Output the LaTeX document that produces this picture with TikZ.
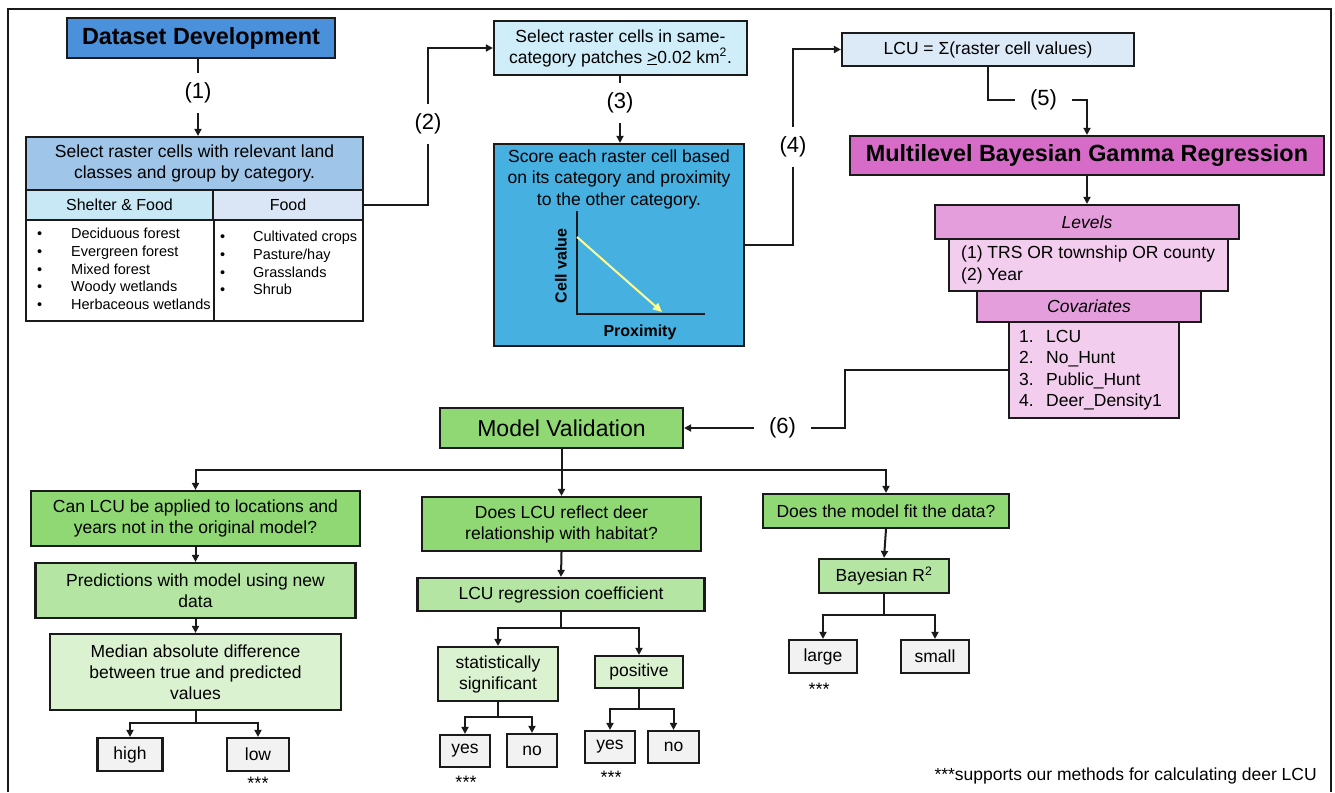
\documentclass[tikz,border=0pt]{standalone}
\usepackage{fontspec}
\setmainfont{Liberation Sans}
\usetikzlibrary{arrows.meta}
\newcommand\myfs[2]{\fontsize{#1}{#2}\selectfont}
\definecolor{dsblue}{HTML}{4A90DA}
\definecolor{selblue}{HTML}{9FC5E8}
\definecolor{shcyan}{HTML}{C8E8F6}
\definecolor{foodblue}{HTML}{DAE6F5}
\definecolor{samecyan}{HTML}{CFEEFA}
\definecolor{scoreblue}{HTML}{46B0E1}
\definecolor{lcublue}{HTML}{DCE9F6}
\definecolor{mag}{HTML}{D66BC8}
\definecolor{maghd}{HTML}{E49EDB}
\definecolor{magl}{HTML}{F2CDEE}
\definecolor{gdark}{HTML}{8FD874}
\definecolor{gmid}{HTML}{B4E5A2}
\definecolor{glight}{HTML}{DAF2D0}
\definecolor{boxgray}{HTML}{F2F2F2}
\definecolor{yel}{HTML}{FFFF8F}
\definecolor{edge}{HTML}{1A1A1A}
\begin{document}
\begin{tikzpicture}[x=1pt,y=-1pt,
  box/.style={draw=edge, line width=2.2pt, inner sep=0pt, align=center, font=\myfs{17.5}{21}},
  lab/.style={font=\myfs{22}{26}, inner sep=0pt, minimum width=57pt, minimum height=40pt},
  lst/.style={font=\myfs{14.5}{17}, inner sep=0pt, text height=10.5pt, text depth=3pt, anchor=west},
  ltxt/.style={font=\myfs{17.5}{21}, inner sep=0pt, text height=12.6pt, text depth=3.7pt, anchor=west},
  ast/.style={font=\myfs{18}{20}, inner sep=0pt, anchor=north},
  conn/.style={draw=edge, line width=2pt},
  arr/.style={conn, -{Triangle[length=7pt,width=7pt]}},
]
\useasboundingbox (0,0) rectangle (1335,792);
\fill[white] (0,0) rectangle (1335,792);
% frame
\draw[draw=edge, line width=2pt] (8,792) -- (8,9) -- (1331,9) -- (1331,792);

% ---------------- Dataset development ----------------
\node[box, fill=dsblue, minimum width=268pt, minimum height=40pt, font=\bfseries\myfs{23.4}{28}] (ds) at (201,38) {Dataset Development};
\node[box, fill=selblue, minimum width=337pt, minimum height=53pt] (sel) at (194.5,163.5) {Select raster cells with relevant land\\classes and group by category.};
\node[box, fill=shcyan, minimum width=187pt, minimum height=30pt, font=\myfs{16}{19}] (shf) at (119.5,205) {Shelter \& Food};
\node[box, fill=foodblue, minimum width=150pt, minimum height=30pt, font=\myfs{16}{19}] (food) at (288,205) {Food};
\node[box, fill=white, minimum width=188pt, minimum height=101pt] (shfl) at (120,270.5) {};
\node[box, fill=white, minimum width=149pt, minimum height=101pt] (foodl) at (288.5,270.5) {};
\foreach \t [count=\i] in {Deciduous forest, Evergreen forest, Mixed forest, Woody wetlands, Herbaceous wetlands} {
  \node[lst] (sfb\i) at (37,{235+17.7*(\i-1)}) {\textbullet};
  \node[lst] (sft\i) at (71,{235+17.7*(\i-1)}) {\t};
}
\foreach \t [count=\i] in {Cultivated crops, Pasture/hay, Grasslands, Shrub} {
  \node[lst] (fb\i) at (220,{238+17.7*(\i-1)}) {\textbullet};
  \node[lst] (ft\i) at (253,{238+17.7*(\i-1)}) {\t};
}

\node[box, fill=samecyan, minimum width=253pt, minimum height=54pt] (same) at (620.5,48) {Select raster cells in same-\\category patches \underline{>}0.02 km\textsuperscript{2}.};
\node[box, fill=scoreblue, minimum width=250pt, minimum height=202pt] (score) at (619,245) {};
\node[inner sep=0pt, align=center, font=\myfs{17.5}{21.5}] (scoretxt) at (619,179) {Score each raster cell based\\on its category and proximity\\to the other category.};
\coordinate (ytop) at (577,211);
\coordinate (orig) at (577,314);
\coordinate (xend) at (705,314);
\draw[draw=edge, line width=2.2pt] (ytop) -- (orig) -- (xend);
\coordinate (ys) at (577,237);
\coordinate (ye) at (662,312);
\draw[yel, line width=2pt, -{Triangle[length=9pt,width=8pt]}] (ys) -- (ye);
\node[rotate=90, inner sep=0pt, font=\bfseries\myfs{16}{19}] (cv) at (561,266) {Cell value};
\node[inner sep=0pt, font=\bfseries\myfs{16}{19}] (prox) at (640,332) {Proximity};

\node[box, fill=lcublue, minimum width=292pt, minimum height=33pt] (lcu) at (988,49.5) {LCU = Σ(raster cell values)};
\node[box, fill=mag, minimum width=474pt, minimum height=39pt, font=\bfseries\myfs{23.4}{28}] (mbgr) at (1087,155.5) {Multilevel Bayesian Gamma Regression};
\node[box, fill=maghd, minimum width=304pt, minimum height=34pt, font=\itshape\myfs{17.5}{21}] (levh) at (1087,222) {Levels};
\node[box, fill=magl, minimum width=279pt, minimum height=52pt] (levc) at (1088.5,265) {};
\node[ltxt] (lv1) at (961,254) {(1) TRS OR township OR county};
\node[ltxt] (lv2) at (961,276) {(2) Year};
\node[box, fill=maghd, minimum width=224pt, minimum height=31pt, font=\itshape\myfs{17.5}{21}] (covh) at (1089,306.5) {Covariates};
\node[box, fill=magl, minimum width=170pt, minimum height=96pt] (covc) at (1094,370) {};
\foreach \t [count=\i] in {LCU, No\_Hunt, Public\_Hunt, Deer\_Density1} {
  \node[ltxt] (cn\i) at (1019,{338+21.3*(\i-1)}) {\i.};
  \node[ltxt] (ct\i) at (1046,{338+21.3*(\i-1)}) {\t};
}

% labels
\node[lab] (l1) at (198,93) {(1)};
\node[lab] (l2) at (428,124) {(2)};
\node[lab] (l3) at (620,103) {(3)};
\node[lab] (l4) at (793,147) {(4)};
\node[lab] (l5) at (1043.5,100) {(5)};
\node[lab] (l6) at (782.5,428) {(6)};

% connectors top
\draw[conn] (ds.south -| l1) -- (l1.north);
\draw[arr] (l1.south) -- (l1.south |- sel.north);
\draw[conn] (food.east) -| (l2.south);
\draw[arr] (l2.north) |- (same.west);
\draw[conn] (same.south -| l3) -- (l3.north);
\draw[arr] (l3.south) -- (l3.south |- score.north);
\draw[conn] (score.east) -| (l4.south);
\draw[arr] (l4.north) |- (lcu.west);
\draw[conn] (lcu.south) |- (l5.west);
\draw[arr] (l5.east) -| (mbgr.north);
\draw[arr] (mbgr.south) -- (levh.north);
\coordinate (c6) at (845,370);
\draw[conn] (covc.west) -- (c6) |- (l6.east);

% ---------------- Model validation ----------------
\node[box, fill=gdark, minimum width=243pt, minimum height=40pt, font=\myfs{23}{27}] (mv) at (561.5,428) {Model Validation};
\draw[arr] (l6.west) -- (mv.east);

\node[box, fill=gdark, minimum width=329pt, minimum height=55pt] (q1) at (195.5,518.5) {Can LCU be applied to locations and\\years not in the original model?};
\node[box, fill=gdark, minimum width=279pt, minimum height=54pt] (q2) at (561.5,524) {Does LCU reflect deer\\relationship with habitat?};
\node[box, fill=gdark, minimum width=246pt, minimum height=34pt] (q3) at (886,511) {Does the model fit the data?};
\coordinate (b0) at (561.5,470);
\draw[conn] (mv.south) -- (b0);
\draw[arr] (b0) -| (q1.north);
\draw[arr] (b0) -- (q2.north);
\draw[arr] (b0) -| (q3.north);

% left branch
\node[box, fill=gmid, minimum width=320pt, minimum height=55pt] (p1) at (195.5,590.5) {Predictions with model using new\\data};
\node[box, fill=glight, minimum width=291pt, minimum height=76pt] (m1) at (195.5,672) {Median absolute difference\\between true and predicted\\values};
\node[box, fill=boxgray, minimum width=65pt, minimum height=33pt] (high) at (130,754.5) {high};
\node[box, fill=boxgray, minimum width=62pt, minimum height=33pt] (low) at (258,754.5) {low};
\node[ast] (s1) at (258,777) {***};
\draw[arr] (q1.south) -- (p1.north);
\draw[arr] (p1.south) -- (m1.north);
\coordinate (b1) at (195.5,723);
\draw[conn] (m1.south) -- (b1);
\draw[arr] (b1) -| (high.north);
\draw[arr] (b1) -| (low.north);

% middle branch
\node[box, fill=gmid, minimum width=287pt, minimum height=33pt] (lcur) at (561,594.5) {LCU regression coefficient};
\node[box, fill=glight, minimum width=120pt, minimum height=54pt] (ss) at (498,674) {statistically\\significant};
\node[box, fill=glight, minimum width=88pt, minimum height=32pt] (pos) at (639,672) {positive};
\node[box, fill=boxgray, minimum width=50pt, minimum height=32pt] (yes1) at (465,751) {yes};
\node[box, fill=boxgray, minimum width=50pt, minimum height=33pt] (no1) at (532,750.5) {no};
\node[box, fill=boxgray, minimum width=50pt, minimum height=32pt] (yes2) at (610,747) {yes};
\node[box, fill=boxgray, minimum width=51pt, minimum height=32pt] (no2) at (673.5,747) {no};
\node[ast] (s2) at (466,776) {***};
\node[ast] (s3) at (611,771) {***};
\draw[arr] (q2.south) -- (lcur.north);
\coordinate (b2) at (561,628);
\draw[conn] (lcur.south) -- (b2);
\draw[arr] (b2) -| (ss.north);
\draw[arr] (b2) -| (pos.north);
\coordinate (b3) at (498,717);
\draw[conn] (ss.south) -- (b3);
\draw[arr] (b3) -| (yes1.north);
\draw[arr] (b3) -| (no1.north);
\coordinate (b4) at (639,709);
\draw[conn] (pos.south) -- (b4);
\draw[arr] (b4) -| (yes2.north);
\draw[arr] (b4) -| (no2.north);

% right branch
\node[box, fill=gmid, minimum width=130pt, minimum height=34pt] (bay) at (884,576) {Bayesian R\textsuperscript{2}};
\node[box, fill=boxgray, minimum width=68pt, minimum height=33pt] (large) at (823,656.5) {large};
\node[box, fill=boxgray, minimum width=68pt, minimum height=33pt] (small) at (935,656.5) {small};
\node[ast] (s4) at (819,683) {***};
\draw[arr] (q3.south) -- (bay.north);
\coordinate (b5) at (884,615);
\draw[conn] (bay.south) -- (b5);
\draw[arr] (b5) -| (large.north);
\draw[arr] (b5) -| (small.north);

\node[ltxt, anchor=east] (foot) at (1317,776) {***supports our methods for calculating deer LCU};
\end{tikzpicture}
\end{document}
